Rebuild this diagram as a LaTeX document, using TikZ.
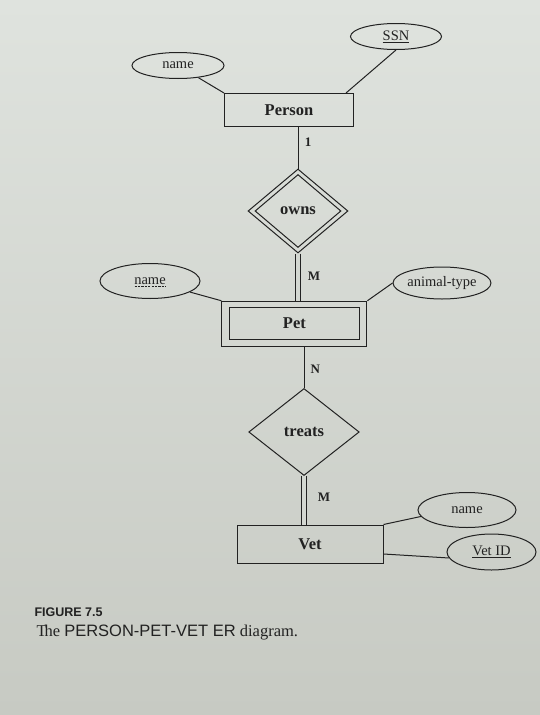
\documentclass[tikz,border=0pt]{standalone}
\usepackage{fontspec}
\setmainfont{Liberation Serif}
\setsansfont{Liberation Sans}
\usetikzlibrary{shapes.geometric}
\definecolor{ink}{RGB}{34,34,34}
\definecolor{paperT}{RGB}{223,227,222}
\definecolor{paperB}{RGB}{199,202,195}
\definecolor{paperM}{RGB}{211,215,209}
\tikzset{
  attr/.style={ellipse, draw, inner sep=0pt, font=\fontsize{14.5}{16}\selectfont},
  ent/.style={rectangle, draw, inner sep=0pt, font=\bfseries\fontsize{16.5}{18}\selectfont},
  rel/.style={diamond, draw, inner sep=0pt, font=\bfseries\fontsize{16.5}{18}\selectfont},
  card/.style={inner sep=0pt, font=\bfseries\fontsize{13}{15}\selectfont},
  dbl/.style={double=paperM, double distance=4.4pt},
}
\begin{document}
\begin{tikzpicture}[x=1pt, y=-1pt, line width=1pt, color=ink]
\shade[top color=paperT, bottom color=paperB] (0,0) rectangle (540,715);
\useasboundingbox (0,0) rectangle (540,715);

% Person and attributes
\node[attr, minimum width=91pt, minimum height=26pt] (ssn) at (396,36.5) {\underline{SSN}};
\node[attr, minimum width=92pt, minimum height=26pt] (pername) at (178,65.5) {name};
\node[ent, minimum width=129pt, minimum height=33pt] (person) at (289,110) {Person};

% owns (identifying relationship)
\node[rel, minimum width=100pt, minimum height=84pt] (owns) at (298,211) {};
\node[rel, minimum width=86pt, minimum height=73pt] (ownsin) at (298,211) {owns};

% Pet (weak entity) and attributes
\node[attr, minimum width=100pt, minimum height=35pt] (pname) at (150,281) {name};
\draw[line width=0.5pt, dash pattern=on 2.2pt off 1.2pt] ([xshift=-15.5pt,yshift=-5.5pt]pname.center) -- ([xshift=15.5pt,yshift=-5.5pt]pname.center);
\node[attr, minimum width=97pt, minimum height=32pt] (atype) at (442,283) {animal-type};
\node[ent, minimum width=145pt, minimum height=45.5pt] (pet) at (294.4,324) {};
\node[ent, minimum width=130pt, minimum height=32.5pt] (petin) at (294.4,323.5) {Pet};

% treats
\node[rel, minimum width=110.5pt, minimum height=87pt] (treats) at (304,432) {treats};

% Vet and attributes
\node[ent, minimum width=146pt, minimum height=38pt] (vet) at (310,544) {Vet};
\node[attr, minimum width=98pt, minimum height=35pt] (vname) at (467,510) {name};
\node[attr, minimum width=89pt, minimum height=36pt] (vid) at (491.5,552) {\underline{Vet ID}};

% cardinalities
\node[card] (c1) at (308,142) {1};
\node[card] (c2) at (314,276.5) {M};
\node[card] (c3) at (315.3,369.3) {N};
\node[card] (c4) at (324,497.7) {M};

% connectors
\draw (pername) -- (person.north west);
\draw (ssn.south) -- ([xshift=-8pt]person.north east);
\draw (owns.north) -- (owns.north |- person.south);
\draw[dbl] (owns.south) -- (owns.south |- pet.north);
\draw (pname) -- (pet.north west);
\draw (atype.west) -- (pet.north east);
\draw (treats.north) -- (treats.north |- pet.south);
\draw[dbl] (treats.south) -- (treats.south |- vet.north);
\draw (vname.188) -- (vet.north east);
\draw (vid.188) -- ([yshift=-10pt]vet.east);

% caption
\node[anchor=base west, inner sep=0pt, font=\sffamily\bfseries\fontsize{12.5}{14}\selectfont] (fig) at (34,616.5) {FIGURE 7.5};
\node[anchor=base west, inner sep=0pt, font=\fontsize{16.5}{18}\selectfont] (cap) at (36,636) {T\kern-2pt he {\sffamily PERSON-PET-VET ER} diagram.};
\end{tikzpicture}
\end{document}
